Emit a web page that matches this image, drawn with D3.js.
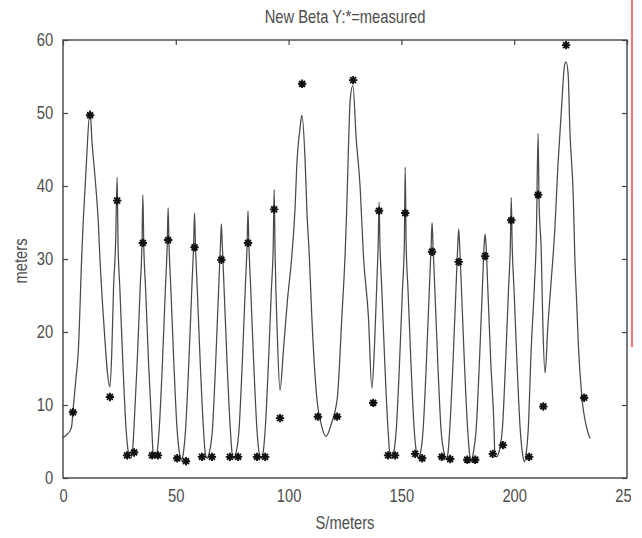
<!DOCTYPE html>
<html>
<head>
<meta charset="utf-8">
<script src="https://cdn.jsdelivr.net/npm/d3@7/dist/d3.min.js"></script>
<style>
  html, body { margin: 0; padding: 0; background: #fff; }
  svg { display: block; }
  .lbl { font-family: "Liberation Sans", Arial, sans-serif; fill: #4d4d4d; }
</style>
</head>
<body>
<svg id="chart" width="642" height="538"></svg>
<script>
// ---------- data ----------
const titleText = "New Beta Y:*=measured";
const xLabel = "S/meters";
const yLabel = "meters";
const xTicks = [0, 50, 100, 150, 200, 250];
const yTicks = [0, 10, 20, 30, 40, 50, 60];

// model curve: position S (m) and beta (m)
const lineS = [
  0, 1.5, 3.0, 3.8, 4.6, 5.7, 6.8, 8.3, 9.0, 10.2, 12.0, 12.8, 14.2, 15.6, 16.4, 17.9, 20.8, 21.6, 22.4, 23.3, 24.0,
  24.4, 25.2, 26.5, 28.0, 29.1, 29.9, 30.7, 31.4, 32.9, 34.2, 35.0, 35.4,
  35.8, 36.6, 37.9, 39.4, 40.0, 40.8, 41.6, 42.6, 44.1, 45.4, 46.2, 46.6,
  47.0, 47.8, 49.1, 50.6, 51.7, 52.5, 53.3, 54.3, 55.8, 57.1, 57.9, 58.3,
  58.7, 59.5, 60.8, 62.3, 63.1, 63.9, 64.7, 66.2, 67.7, 69.0, 69.8, 70.2,
  70.6, 71.4, 72.7, 74.2, 75.0, 75.8, 76.6, 78.0, 79.5, 80.8, 81.6, 82.0,
  82.4, 83.2, 84.5, 86.0, 87.0, 87.8, 88.6, 89.6, 91.1, 92.4, 93.2, 93.6,
  94.0, 95.0, 96.2, 97.7, 99.5, 101.4, 102.9, 103.6, 105.1, 105.9, 107.3, 108.1, 109.2, 110.3, 112.5, 114.5,
  116.6, 118.8, 121.6, 123.6, 125.1, 125.8, 126.5, 127.3, 128.5, 129.9, 131.7, 133.2, 135.4, 136.9, 138.0,
  139.1, 139.7, 140.1,
  140.5, 141.3, 142.6, 144.1, 144.9, 145.7, 146.5, 147.7, 149.2, 150.5, 151.3, 151.7,
  152.1, 152.9, 154.2, 155.7, 156.8, 157.6, 158.4, 159.6, 161.1, 162.4, 163.2, 163.6,
  164.0, 164.8, 166.1, 167.6, 169.0, 169.8, 170.6, 171.4, 172.9, 174.2, 175.0, 175.4,
  175.8, 176.6, 177.9, 179.4, 180.2, 181.0, 181.8, 183.1, 184.6, 185.9, 186.7, 187.1,
  187.5, 188.3, 189.6, 191.1, 191.4, 192.2, 193.0, 194.7, 196.2, 197.5, 198.3, 198.7,
  199.1, 199.9, 201.2, 202.7, 203.7, 204.5, 205.3, 206.2, 207.5, 209.0, 209.8, 210.6,
  211.0, 212.0, 212.7, 213.7, 214.9, 216.4, 218.0, 219.4, 220.9, 222.4, 223.0, 223.9, 224.7, 226.2, 226.9,
  227.7, 228.4, 229.9, 232.2, 233.6
];
const lineBeta = [
  5.5, 5.9, 6.4, 7.0, 9.8, 13.5, 17.5, 30.3, 35.3, 42.2, 50.4, 46.3, 41.2, 35.3, 29.9, 22.1, 12.5, 17.0, 26.0, 32.0, 41.2,
  32, 26, 16, 6.5, 3.3, 2.7, 3.3, 6.5, 16, 26, 32, 38.8,
  32, 26, 16, 6.5, 3.3, 2.9, 3.3, 6.5, 16, 26, 32, 37.0,
  32, 26, 16, 6.5, 3.3, 2.5, 3.3, 6.5, 16, 26, 32, 36.3,
  32, 26, 16, 6.5, 3.3, 2.7, 3.3, 6.5, 16, 26, 32, 34.8,
  32, 26, 16, 6.5, 3.3, 2.7, 3.3, 6.5, 16, 26, 32, 36.6,
  32, 26, 16, 6.5, 3.3, 2.7, 3.3, 6.5, 16, 26, 32, 39.5,
  31.0, 19.6, 12.0, 17.5, 24.4, 30.3, 37.2, 42.6, 48.0, 49.7, 43.6, 36.7, 30.3, 22.0, 11.0, 7.3,
  5.7, 7.3, 11.0, 22.0, 31.0, 37.2, 44.9, 51.8, 53.8, 46.8, 39.9, 30.3, 22.0, 12.3, 17.5,
  26.7, 32.0, 37.8,
  32, 26, 16, 6.5, 3.3, 2.7, 3.3, 6.5, 16, 26, 32, 42.6,
  32, 26, 16, 6.5, 3.3, 2.7, 3.3, 6.5, 16, 26, 32, 35.0,
  32, 26, 16, 6.5, 3.3, 2.6, 3.3, 6.5, 16, 26, 32, 34.1,
  32, 26, 16, 6.5, 3.3, 2.2, 3.3, 6.5, 16, 26, 32, 33.4,
  32, 26, 16, 6.5, 3.3, 2.9, 3.3, 6.5, 16, 26, 32, 38.4,
  32, 26, 16, 6.5, 3.3, 2.2, 3.3, 6.5, 17.4, 26.6, 32.8, 47.2,
  38.0, 31.0, 21.0, 14.4, 20.7, 27.0, 34.0, 42.9, 50.3, 56.7, 57.0, 55.4, 47.5, 38.4, 30.0,
  24.0, 18.5, 11.4, 6.8, 5.4
];

// measured points (*)
const measS = [
  4.4, 12.0, 20.8, 24.0, 28.4, 31.5, 35.4, 39.5, 42.1, 46.6, 50.6, 54.5, 58.3, 61.6, 66.0, 70.2,
  74.0, 77.6, 82.0, 86.0, 89.6, 93.6, 96.2, 106.0, 113.0, 121.5, 128.6, 137.5, 140.1, 144.1, 147.2,
  151.7, 156.1, 159.2, 163.6, 167.9, 171.6, 175.4, 179.2, 182.7, 187.1, 190.5, 195.0, 198.7, 206.6,
  210.6, 212.9, 223.0, 231.0
];
const measBeta = [
  9.0, 49.7, 11.1, 38.0, 3.1, 3.5, 32.2, 3.1, 3.1, 32.6, 2.7, 2.3, 31.6, 2.9, 2.9, 29.9,
  2.9, 2.9, 32.2, 2.9, 2.9, 36.8, 8.2, 54.0, 8.4, 8.4, 54.5, 10.3, 36.6, 3.1, 3.1,
  36.3, 3.3, 2.7, 31.0, 2.9, 2.6, 29.6, 2.5, 2.5, 30.4, 3.3, 4.5, 35.3, 2.9,
  38.8, 9.8, 59.3, 11.0
];

// ---------- drawing ----------
const W = 642, H = 538;
const plot = { left: 63, right: 627, top: 40, bottom: 478 };
const narrow = "scale(0.82,1)";   // reference text is tall and narrow
const svg = d3.select("#chart");

const x = d3.scaleLinear().domain([0, 250]).range([plot.left, plot.right]);
const y = d3.scaleLinear().domain([0, 60]).range([plot.bottom, plot.top]);

// clip for the rightmost tick label (cut like the reference)
svg.append("defs").append("clipPath").attr("id", "cut")
  .append("rect").attr("x", 0).attr("y", 0).attr("width", 631).attr("height", H);

// title
svg.append("text").attr("class", "lbl")
  .attr("transform", `translate(${(plot.left + plot.right) / 2},23) ${narrow}`)
  .attr("text-anchor", "middle").style("font-size", "18px")
  .text(titleText);

// axes (MATLAB-style box, inward ticks)
const axisStyle = g => {
  g.selectAll(".domain").remove();
  g.selectAll(".tick line").attr("stroke", "#444").attr("stroke-width", 1.2);
  g.selectAll(".tick text").attr("class", "lbl").style("font-size", "18px")
    .attr("fill", "#4d4d4d").attr("font-family", null).attr("transform", narrow);
};

svg.append("g").attr("transform", `translate(0,${plot.bottom})`)
  .attr("clip-path", "url(#cut)")
  .call(d3.axisBottom(x).tickValues(xTicks).tickSizeInner(-5).tickSizeOuter(0).tickPadding(11).tickFormat(d3.format("d")))
  .call(axisStyle);

svg.append("g").attr("transform", `translate(0,${plot.top})`)
  .call(d3.axisTop(x).tickValues(xTicks).tickSizeInner(-5).tickSizeOuter(0).tickFormat(""))
  .call(axisStyle);

svg.append("g").attr("transform", `translate(${plot.left},0)`)
  .call(d3.axisLeft(y).tickValues(yTicks).tickSizeInner(-5).tickSizeOuter(0).tickPadding(12).tickFormat(d3.format("d")))
  .call(axisStyle);

svg.append("g").attr("transform", `translate(${plot.right},0)`)
  .call(d3.axisRight(y).tickValues(yTicks).tickSizeInner(-5).tickSizeOuter(0).tickFormat(""))
  .call(axisStyle);

// box
svg.append("rect")
  .attr("x", plot.left).attr("y", plot.top)
  .attr("width", plot.right - plot.left).attr("height", plot.bottom - plot.top)
  .attr("fill", "none").attr("stroke", "#444").attr("stroke-width", 1.4);

// axis labels
svg.append("text").attr("class", "lbl")
  .attr("transform", `translate(${(plot.left + plot.right) / 2},529) ${narrow}`)
  .attr("text-anchor", "middle").style("font-size", "18px")
  .text(xLabel);

svg.append("text").attr("class", "lbl")
  .attr("transform", `translate(27,${(plot.top + plot.bottom) / 2 + 2}) rotate(-90) ${narrow}`)
  .attr("text-anchor", "middle").style("font-size", "18px")
  .text(yLabel);

// model line
const linePts = lineS.map((s, i) => [s, lineBeta[i]]);
svg.append("path")
  .datum(linePts)
  .attr("fill", "none").attr("stroke", "#4a4a4a").attr("stroke-width", 1.25)
  .attr("d", d3.line().x(d => x(d[0])).y(d => y(d[1])).curve(d3.curveMonotoneX));

// measured markers: 8-armed asterisk
const starType = {
  draw(ctx, size) {
    const r = Math.sqrt(size) / 2, d = r * 0.7071;
    ctx.moveTo(-r, 0); ctx.lineTo(r, 0);
    ctx.moveTo(0, -r); ctx.lineTo(0, r);
    ctx.moveTo(-d, -d); ctx.lineTo(d, d);
    ctx.moveTo(-d, d); ctx.lineTo(d, -d);
  }
};
const measPts = measS.map((s, i) => [s, measBeta[i]]);
svg.append("g").selectAll("path")
  .data(measPts).join("path")
  .attr("transform", d => `translate(${x(d[0])},${y(d[1])})`)
  .attr("d", d3.symbol().type(starType).size(70))
  .attr("fill", "none").attr("stroke", "#111").attr("stroke-width", 1.9);

// red vertical stroke at the right edge of the picture
svg.append("line")
  .attr("x1", 632).attr("x2", 632).attr("y1", 0).attr("y2", 347)
  .attr("stroke", "#f07878").attr("stroke-width", 2.2);
</script>
</body>
</html>
